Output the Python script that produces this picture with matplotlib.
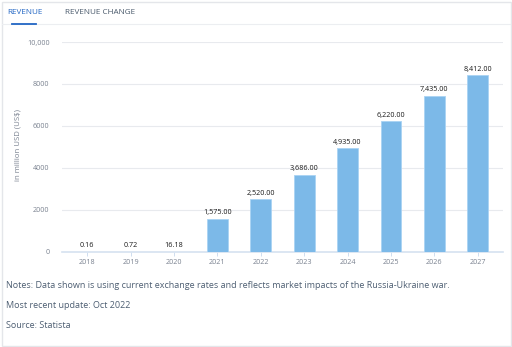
import matplotlib
matplotlib.use("Agg")
import matplotlib.pyplot as plt
from matplotlib.patches import Rectangle
from matplotlib.lines import Line2D

years = ["2018", "2019", "2020", "2021", "2022", "2023", "2024", "2025", "2026", "2027"]
revenue = [0.16, 0.72, 16.18, 1575.0, 2520.0, 3686.0, 4935.0, 6220.0, 7435.0, 8412.0]
yticks = [0, 2000, 4000, 6000, 8000, 10000]
ytick_labels = ["0", "2000", "4000", "6000", "8000", "10,000"]

plt.rcParams['font.family'] = ['Open Sans', 'DejaVu Sans']

W, H = 512, 347
fig = plt.figure(figsize=(W / 100, H / 100), dpi=100)
fig.patch.set_facecolor("white")

def fx(px):
    return px / W

def fy(py):
    return 1 - py / H

# border
fig.add_artist(Rectangle((fx(1.5), fy(345.5)), fx(509), 343.5 / H, transform=fig.transFigure,
                         fill=False, edgecolor="#e4e6ea", linewidth=1))
# tabs
fig.text(fx(7), fy(12), "REVENUE", color="#2266c4", fontsize=5.9, va="center", ha="left")
fig.text(fx(65), fy(12), "REVENUE CHANGE", color="#4a5a6c", fontsize=5.9, va="center", ha="left")
fig.add_artist(Line2D([fx(2), fx(510)], [fy(23.5), fy(23.5)], transform=fig.transFigure,
                      color="#eceef1", linewidth=0.8))
fig.add_artist(Line2D([fx(12), fx(36)], [fy(23.5), fy(23.5)], transform=fig.transFigure,
                      color="#2266c4", linewidth=1.3))

ax = fig.add_axes([fx(62), fy(252), fx(503) - fx(62), (252 - 42) / H])
x = list(range(len(years)))
bars = ax.bar(x, revenue, width=0.48, color="#7cb9e8", edgecolor="#a9d3f4", linewidth=0.6, zorder=3)
for xi, v in zip(x, revenue):
    ax.text(xi, v + 120, f"{v:,.2f}", ha="center", va="bottom", fontsize=5.2,
            color="#1a1a1a", zorder=4)

ax.set_ylim(0, 10000)
ax.set_xlim(-0.58, 9.58)
ax.set_yticks(yticks)
ax.set_yticklabels(ytick_labels)
ax.set_xticks(x)
ax.set_xticklabels(years)
ax.grid(axis="y", color="#e8eaee", linewidth=0.8, zorder=0)
for s in ["top", "right", "left"]:
    ax.spines[s].set_visible(False)
ax.spines["bottom"].set_color("#d6e2f0")
ax.spines["bottom"].set_linewidth(1.2)
ax.tick_params(axis="y", length=0, labelsize=5.2, labelcolor="#7a8290", pad=9)
ax.tick_params(axis="x", length=3, width=0.6, color="#c8d8ec", labelsize=5.2, labelcolor="#7a8290", pad=2)
fig.text(fx(18), fy(145), "in million USD (US$)", rotation=90, fontsize=5.6, color="#7a8290",
         va="center", ha="center")

# notes
note_color = "#4d5e72"
fig.text(fx(6), fy(285), "Notes: Data shown is using current exchange rates and reflects market impacts of the Russia-Ukraine war.",
         color=note_color, fontsize=6.5, va="center", ha="left")
fig.text(fx(6), fy(306), "Most recent update: Oct 2022", color=note_color, fontsize=6.5, va="center", ha="left")
fig.text(fx(6), fy(326), "Source: Statista", color=note_color, fontsize=6.5, va="center", ha="left")

fig.savefig("out.png", dpi=100, facecolor="white")
